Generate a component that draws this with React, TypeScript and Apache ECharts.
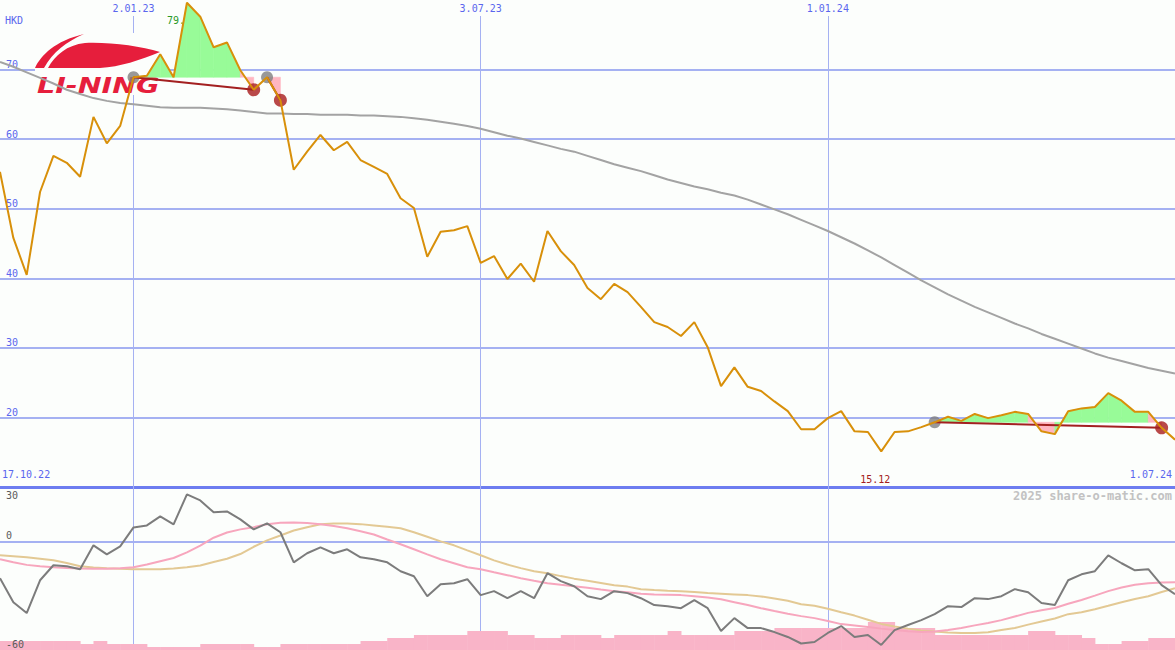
import React, { useEffect, useRef } from 'react';
import * as echarts from 'echarts';

// ---------- data ----------
const topDateLabels = ['2.01.23', '3.07.23', '1.01.24'];
const topDateIdx = [10, 36, 62];
const firstDate = '17.10.22';
const lastDate = '1.07.24';
const lastIdx = 88;

// weekly closing price (HKD)
const price = [
  55.3, 45.8, 40.5, 52.4, 57.6, 56.6, 54.6, 63.2, 59.4, 61.9,
  68.9, 69.1, 72.2, 68.9, 79.6, 77.6, 73.2, 73.9, 69.9, 67.1,
  68.9, 65.6, 55.6, 58.2, 60.6, 58.4, 59.6, 57.0, 56.0, 55.0,
  51.5, 50.1, 43.1, 46.7, 46.9, 47.5, 42.2, 43.2, 39.9, 42.1,
  39.5, 46.8, 43.9, 41.9, 38.6, 37.0, 39.2, 38.0, 35.9, 33.7,
  33.0, 31.7, 33.7, 30.1, 24.5, 27.2, 24.4, 23.8, 22.3, 20.9,
  18.3, 18.3, 19.9, 20.9, 18.0, 17.9, 15.12, 17.9, 18.0, 18.6,
  19.3, 20.1, 19.5, 20.5, 19.9, 20.3, 20.8, 20.5, 18.0, 17.6,
  20.9, 21.3, 21.5, 23.5, 22.4, 20.8, 20.8, 18.5, 16.8,
];

// long moving average
const movingAvg = [
  71.1, 70.4, 69.6, 68.8, 68.0, 67.1, 66.5, 65.9, 65.5, 65.2,
  65.0, 64.8, 64.6, 64.5, 64.5, 64.5, 64.4, 64.3, 64.1, 63.9,
  63.7, 63.7, 63.6, 63.6, 63.5, 63.5, 63.5, 63.4, 63.4, 63.3,
  63.2, 63.0, 62.8, 62.5, 62.2, 61.9, 61.5, 61.0, 60.5, 60.1,
  59.6, 59.1, 58.6, 58.2, 57.6, 57.0, 56.4, 55.9, 55.4, 54.8,
  54.2, 53.7, 53.2, 52.8, 52.3, 51.9, 51.3, 50.6, 49.9, 49.2,
  48.4, 47.6, 46.8, 45.9, 45.0, 44.0, 43.0, 41.9, 40.8, 39.7,
  38.7, 37.7, 36.8, 35.9, 35.1, 34.3, 33.5, 32.8, 32.0, 31.3,
  30.6, 29.9, 29.2, 28.6, 28.1, 27.6, 27.1, 26.7, 26.3,
];

// trades: buy index / sell index
const buyIdx = [10, 20, 70];
const sellIdx = [19, 21, 87];

// lower panel oscillator
const oscMain = [
  -20.4, -33.6, -39.6, -21.5, -13.2, -13.8, -15.4, -2.2, -7.2, -2.8,
  7.7, 8.8, 13.8, 9.4, 25.9, 22.6, 16.0, 16.5, 12.1, 6.6,
  9.9, 5.0, -11.6, -6.6, -3.3, -6.6, -4.4, -8.8, -9.9, -11.6,
  -16.5, -19.3, -30.3, -23.7, -23.1, -20.9, -29.7, -27.5, -31.4, -27.5,
  -31.4, -17.6, -22.0, -24.8, -30.3, -31.9, -27.5, -28.6, -31.4, -35.2,
  -35.8, -36.9, -32.5, -36.9, -49.5, -42.4, -47.9, -47.9, -50.1, -52.8,
  -56.4, -55.6, -50.6, -46.8, -52.8, -51.7, -57.2, -49.0, -46.2, -43.5,
  -40.2, -35.8, -36.3, -31.4, -31.9, -30.3, -26.4, -28.1, -34.1, -35.2,
  -21.5, -18.2, -16.5, -7.7, -12.1, -16.0, -15.4, -24.2, -29.2,
];
const oscPink = [
  -9.9, -11.5, -13.0, -13.8, -14.3, -14.7, -15.0, -15.2, -15.2, -14.9,
  -14.3, -12.8, -11.0, -9.2, -6.1, -2.4, 2.0, 4.9, 6.6, 7.8,
  9.4, 10.2, 10.4, 10.1, 9.4, 8.5, 7.2, 5.6, 3.8, 1.0,
  -1.6, -4.4, -7.2, -9.9, -12.1, -14.3, -15.4, -17.1, -18.7, -20.4,
  -21.8, -23.1, -24.0, -24.8, -25.6, -26.6, -27.5, -28.1, -28.9, -29.3,
  -29.5, -29.7, -30.3, -31.0, -32.0, -33.6, -35.2, -36.9, -38.5, -40.0,
  -41.3, -42.4, -44.0, -45.7, -46.5, -47.3, -48.2, -49.0, -49.6, -50.1,
  -49.8, -49.0, -47.9, -46.4, -45.1, -43.5, -41.5, -39.5, -38.0, -36.8,
  -34.5, -32.4, -30.0, -27.5, -25.5, -24.0, -23.1, -22.7, -22.6,
];
const oscTan = [
  -7.7, -8.2, -8.8, -9.6, -10.5, -12.0, -13.8, -14.5, -14.9, -15.2,
  -15.4, -15.4, -15.4, -15.0, -14.3, -13.3, -11.4, -9.6, -7.0, -3.0,
  0.5, 3.2, 6.0, 7.8, 9.4, 9.8, 9.9, 9.5, 8.8, 8.0,
  7.2, 5.0, 2.5, 0.0, -2.2, -5.0, -7.7, -10.5, -12.8, -14.8,
  -16.5, -17.6, -19.2, -20.6, -21.8, -23.0, -24.2, -25.0, -26.4, -26.9,
  -27.3, -27.6, -28.0, -28.5, -28.9, -29.3, -29.7, -30.4, -31.6, -32.8,
  -34.7, -35.6, -37.2, -39.2, -41.0, -43.3, -45.6, -47.0, -48.2, -49.2,
  -49.8, -50.3, -50.6, -50.6, -50.2, -49.0, -47.9, -46.0, -44.3, -42.6,
  -40.2, -39.2, -37.5, -35.6, -33.6, -31.8, -30.3, -28.0, -25.9,
];
// weekly volume-like bars (one per week interval)
const volume = [
  9, 9, 9, 9, 9, 9, 6, 9, 6, 6,
  6, 3, 3, 3, 3, 6, 6, 6, 6, 3,
  3, 6, 6, 6, 6, 6, 6, 9, 9, 12,
  12, 15, 15, 15, 15, 19, 19, 19, 15, 15,
  12, 12, 15, 15, 15, 12, 15, 15, 15, 15,
  19, 15, 15, 15, 15, 19, 19, 19, 22, 22,
  22, 22, 22, 22, 22, 28, 28, 22, 22, 22,
  15, 15, 15, 15, 15, 15, 15, 19, 19, 15,
  15, 12, 6, 6, 9, 9, 12, 12,
];
const upperYTicks = { min: 10, max: 80, step: 10 };
const lowerYTicks = { min: -60, max: 30, step: 30 };
const vLineTopValue = 77.7;

// ---------- styles ----------
const BG = '#fcfefc';
const GRID = '#a5b1f2';
const AXIS = '#6d7df0';
const BLUE_TXT = '#5a66ee';
const FONT = '"DejaVu Sans Mono", monospace';
const GREEN = '#98fb98';
const PINK = '#ffb6c1';
const LOGO_RED = '#e61e3c';

const logoPath =
  'M35 68 C41 55 55 41 84 34 C66 42 53 52 44 68 Z ' +
  'M48 68 C55 55 67 45 85 43 C110 42 140 46 160 52 C140 60 120 67 100 68 Z';
echarts.graphic.registerShape('liningSwoosh', echarts.graphic.extendPath(logoPath, {}));

function buildOption() {
  const idx = (arr: number[]) => arr.map((v, i) => [i, v]);

  const fillItems: number[][] = [];
  buyIdx.forEach((b, k) => {
    const s = sellIdx[k];
    const base = price[b];
    for (let i = b; i < s; i++) {
      fillItems.push([i, price[i], i + 1, price[i + 1], base, price[i + 1] >= base ? 1 : 0]);
    }
  });

  const tradeSeries = buyIdx.map((b, k) => ({
    type: 'line',
    xAxisIndex: 0,
    yAxisIndex: 0,
    data: [[b, price[b]], [sellIdx[k], price[sellIdx[k]]]],
    symbol: 'none',
    lineStyle: { color: '#a32020', width: 2 },
    silent: true,
  }));

  return {
    animation: false,
    backgroundColor: BG,
    grid: [
      { left: 0, right: 0, top: 0, height: 487, containLabel: false, outerBoundsMode: 'none' },
      { left: 0, right: 0, top: 487, height: 163, containLabel: false, outerBoundsMode: 'none' },
    ],
    xAxis: [
      {
        gridIndex: 0, type: 'value', min: 0, max: lastIdx, interval: lastIdx,
        axisLine: { show: true, onZero: false, lineStyle: { color: AXIS, width: 3 } },
        axisTick: { show: false },
        splitLine: { show: false },
        axisLabel: {
          inside: true, margin: 8, color: BLUE_TXT, fontFamily: FONT, fontSize: 10,
          padding: [0, 3, 0, 2],
          alignMinLabel: 'left', alignMaxLabel: 'right',
          formatter: (v: number) => (v === 0 ? firstDate : v === lastIdx ? lastDate : ''),
        },
      },
      {
        gridIndex: 1, type: 'value', min: 0, max: lastIdx, show: false,
      },
    ],
    yAxis: [
      {
        gridIndex: 0, type: 'value', min: upperYTicks.min, max: upperYTicks.max, interval: upperYTicks.step,
        axisLine: { show: false }, axisTick: { show: false },
        splitLine: { show: true, showMaxLine: false, lineStyle: { color: GRID, width: 2 } },
        axisLabel: {
          inside: true, margin: 6, verticalAlign: 'bottom', color: BLUE_TXT, fontFamily: FONT, fontSize: 10,
          showMinLabel: false, showMaxLabel: false,
        },
      },
      {
        gridIndex: 1, type: 'value', min: lowerYTicks.min, max: lowerYTicks.max, interval: lowerYTicks.step,
        z: 10,
        axisLine: { show: false }, axisTick: { show: false }, splitLine: { show: false },
        axisLabel: {
          inside: true, margin: 6, color: '#5a5a5a', fontFamily: FONT, fontSize: 10,
          formatter: (v: number) => (v === lowerYTicks.max ? '{t|' + v + '}' : v === -30 ? '' : '{b|' + v + '}'),
          rich: {
            t: { lineHeight: 10, padding: [16, 0, 0, 0], fontFamily: FONT, fontSize: 10, color: '#5a5a5a' },
            b: { lineHeight: 10, padding: [0, 0, 12, 0], fontFamily: FONT, fontSize: 10, color: '#5a5a5a' },
          },
        },
      },
      { gridIndex: 1, type: 'value', min: 0, max: 163, show: false },
    ],
    graphic: [
      { type: 'rect', z: 1.5, shape: { x: 35, y: 33, width: 127, height: 62 }, style: { fill: BG }, silent: true },
      { type: 'liningSwoosh', z: 1.6, x: 0, y: 0, style: { fill: LOGO_RED }, silent: true },
      {
        type: 'text', z: 1.6, x: 37, y: 86, scaleX: 1.36, silent: true,
        style: {
          text: 'LI-NING', fill: LOGO_RED, fontFamily: '"DejaVu Sans"', fontWeight: 'bold',
          fontStyle: 'italic', fontSize: 21, verticalAlign: 'middle', align: 'left',
        },
      },
      {
        type: 'text', z: 1, x: 5, y: 20, silent: true,
        style: { text: 'HKD', fill: BLUE_TXT, fontFamily: FONT, fontSize: 10, verticalAlign: 'middle' },
      },
      {
        type: 'text', z: 1, x: 1172, y: 496, silent: true,
        style: {
          text: '2025 share-o-matic.com', fill: '#c2c2c2', fontFamily: FONT, fontSize: 12,
          fontWeight: 'bold', align: 'right', verticalAlign: 'middle',
        },
      },
    ],
    series: [
      {
        type: 'custom',
        xAxisIndex: 0, yAxisIndex: 0,
        data: fillItems,
        encode: { x: [0, 2], y: [1, 3, 4] },
        silent: true,
        renderItem: (_p: any, api: any) => {
          const a = api.coord([api.value(0), api.value(4)]);
          const b = api.coord([api.value(0), api.value(1)]);
          const c = api.coord([api.value(2), api.value(3)]);
          const d = api.coord([api.value(2), api.value(4)]);
          const col = api.value(5) ? GREEN : PINK;
          return {
            type: 'polygon',
            shape: { points: [a, b, c, d] },
            style: { fill: col, stroke: col, lineWidth: 0.6 },
          };
        },
      },
      {
        type: 'custom',
        xAxisIndex: 1, yAxisIndex: 2,
        data: volume.map((v, i) => [i, v]),
        silent: true,
        renderItem: (_p: any, api: any) => {
          const p0 = api.coord([api.value(0), 0]);
          const p1 = api.coord([api.value(0) + 1, api.value(1)]);
          return {
            type: 'rect',
            shape: { x: p0[0], y: p1[1], width: p1[0] - p0[0] + 0.5, height: p0[1] - p1[1] },
            style: { fill: '#f9b4c8' },
          };
        },
      },
      ...tradeSeries,
      {
        type: 'line', xAxisIndex: 0, yAxisIndex: 0,
        data: idx(movingAvg), symbol: 'none',
        lineStyle: { color: '#a3a3a3', width: 2 }, silent: true,
      },
      {
        type: 'line', xAxisIndex: 0, yAxisIndex: 0,
        data: idx(price), symbol: 'none', clip: false,
        lineStyle: { color: '#d8900a', width: 2 }, silent: true,
        markLine: {
          z: 1, silent: true, symbol: ['none', 'none'],
          lineStyle: { color: GRID, width: 1, type: 'solid' },
          label: { show: true, position: 'start', distance: 3, formatter: '{b}', color: BLUE_TXT, fontFamily: FONT, fontSize: 10 },
          data: topDateIdx.map((x, k) => [
            { coord: [x, vLineTopValue], name: topDateLabels[k] },
            { coord: [x, upperYTicks.min] },
          ]),
        },
        markPoint: {
          z: 1, silent: true, symbol: 'circle', symbolSize: 1,
          itemStyle: { color: 'rgba(0,0,0,0)' },
          label: { show: true, formatter: '{c}', fontFamily: FONT, fontSize: 10 },
          data: [
            { type: 'max', label: { offset: [-8, 18], color: '#2a9a2a' } },
            { type: 'min', label: { offset: [-6, 28], color: '#a32020' } },
          ],
        },
      },
      {
        type: 'scatter', xAxisIndex: 0, yAxisIndex: 0,
        data: buyIdx.map((i) => [i, price[i]]),
        symbolSize: 12, itemStyle: { color: '#808080' }, silent: true,
      },
      {
        type: 'scatter', xAxisIndex: 0, yAxisIndex: 0,
        data: sellIdx.map((i) => [i, price[i]]),
        symbolSize: 13, itemStyle: { color: '#a81c1c' }, silent: true,
      },
      {
        type: 'line', xAxisIndex: 1, yAxisIndex: 1,
        data: idx(oscTan), symbol: 'none',
        lineStyle: { color: '#e3c994', width: 2 }, silent: true,
      },
      {
        type: 'line', xAxisIndex: 1, yAxisIndex: 1,
        data: idx(oscPink), symbol: 'none',
        lineStyle: { color: '#f7a6bd', width: 2 }, silent: true,
      },
      {
        type: 'line', xAxisIndex: 1, yAxisIndex: 1,
        data: idx(oscMain), symbol: 'none',
        lineStyle: { color: '#7c7c7c', width: 2 }, silent: true,
        markLine: {
          z: 1, silent: true, symbol: ['none', 'none'],
          label: { show: false },
          data: [
            ...topDateIdx.map((x) => ({ xAxis: x, lineStyle: { color: GRID, width: 1, type: 'solid' } })),
            { yAxis: 0, lineStyle: { color: GRID, width: 2, type: 'solid' } },
          ],
        },
      },
    ],
  };
}

export default function App() {
  const ref = useRef<HTMLDivElement>(null);
  useEffect(() => {
    const chart = echarts.init(ref.current!, null, { renderer: 'svg' });
    chart.setOption(buildOption() as any);
    return () => chart.dispose();
  }, []);
  return (
    <div
      ref={ref}
      style={{ position: 'fixed', left: 0, top: 0, width: 1175, height: 650, background: BG }}
    />
  );
}
